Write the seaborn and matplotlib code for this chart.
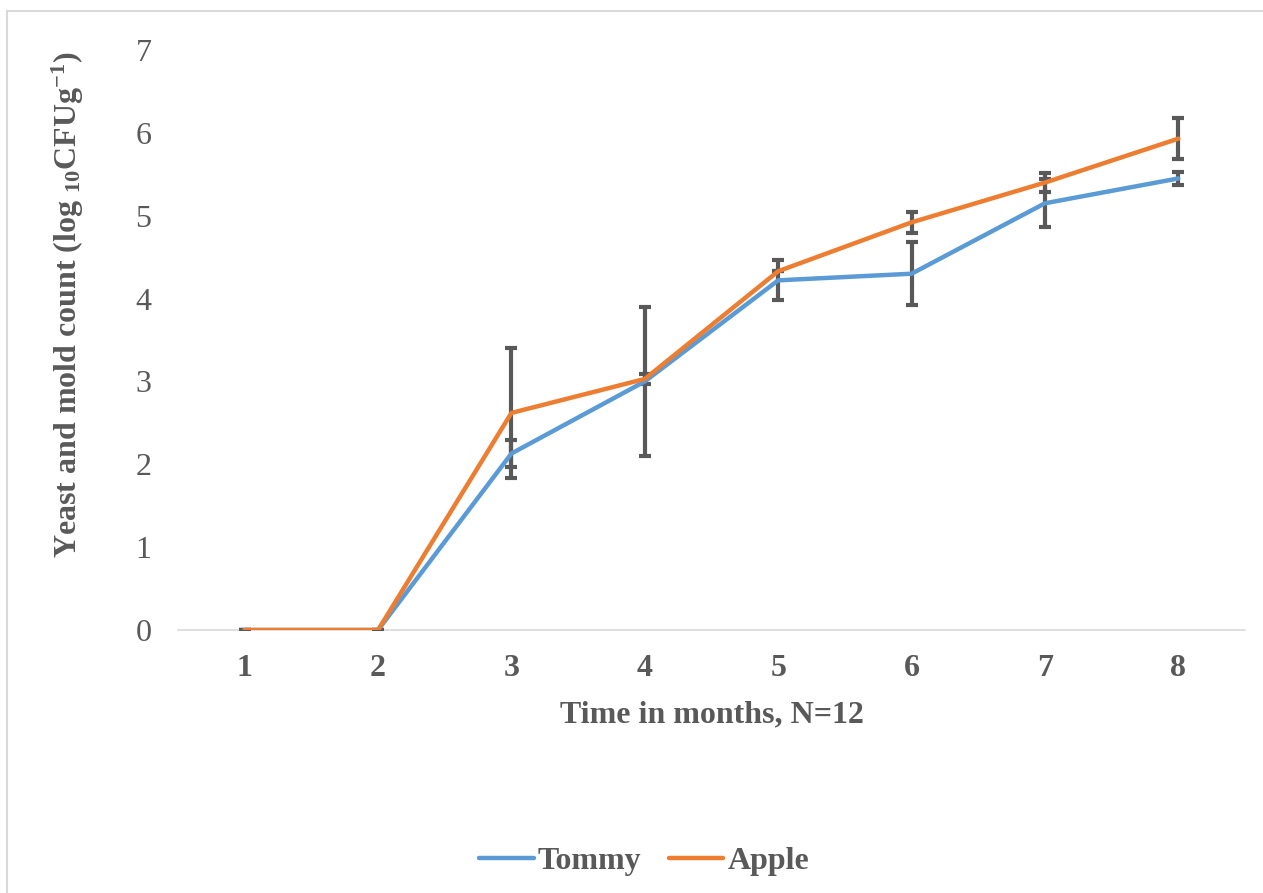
import matplotlib
matplotlib.use("Agg")
import matplotlib.pyplot as plt
import seaborn as sns
import pandas as pd
from matplotlib.lines import Line2D

months = [1, 2, 3, 4, 5, 6, 7, 8]
tommy = [0, 0, 2.13, 3.00, 4.22, 4.30, 5.15, 5.45]
apple = [0, 0, 2.62, 3.03, 4.33, 4.92, 5.40, 5.93]
tommy_err = [0, 0, 0.16, 0.90, 0.24, 0.38, 0.29, 0.08]
apple_err = [0, 0, 0.78, 0.06, 0.0, 0.13, 0.11, 0.25]
series_names = ["Tommy", "Apple"]
colors = {"Tommy": "#5B9BD5", "Apple": "#ED7D31"}

sns.set_style("white")
plt.rcParams["font.family"] = ["Liberation Serif", "DejaVu Serif"]
plt.rcParams["mathtext.fontset"] = "custom"
plt.rcParams["mathtext.rm"] = "Liberation Serif:bold"
plt.rcParams["mathtext.it"] = "Liberation Serif:bold"
plt.rcParams["mathtext.bf"] = "Liberation Serif:bold"

df = pd.DataFrame({
    "month": months * 2,
    "value": tommy + apple,
    "series": ["Tommy"] * len(months) + ["Apple"] * len(months),
})

fig = plt.figure(figsize=(12.63, 8.93), dpi=100)
ax = fig.add_axes([178 / 1263, 1 - 630 / 893, (1245 - 178) / 1263, 580 / 893])

grey = "#595959"
fs = 23

# error bars (behind lines)
ax.errorbar(months, tommy, yerr=tommy_err, fmt="none", ecolor=grey,
            elinewidth=3.0, capsize=4.5, capthick=3.0, zorder=2)
ax.errorbar(months, apple, yerr=apple_err, fmt="none", ecolor=grey,
            elinewidth=3.0, capsize=4.5, capthick=3.0, zorder=2)

sns.lineplot(data=df, x="month", y="value", hue="series", palette=colors,
             hue_order=series_names, linewidth=3.2, ax=ax, legend=False,
             zorder=3)
for ln in ax.lines:
    ln.set_solid_capstyle("round")

ax.set_xlim(0.5, 8.5)
ax.set_ylim(0, 7)
ax.set_xticks(months)
ax.set_xticklabels([str(m) for m in months], fontsize=fs, fontweight="bold", color=grey)
ax.set_yticks(range(0, 8))
ax.set_yticklabels([str(v) for v in range(0, 8)], fontsize=fs, color=grey)
ax.tick_params(axis="x", length=0, pad=17)
ax.tick_params(axis="y", length=0, pad=19)

for s in ["top", "right", "left"]:
    ax.spines[s].set_visible(False)
ax.spines["bottom"].set_color("#D9D9D9")
ax.spines["bottom"].set_linewidth(1.2)
ax.spines["bottom"].set_zorder(1)

ax.set_xlabel("Time in months, N=12", fontsize=fs, fontweight="bold", color=grey)
ax.xaxis.set_label_coords(0.5, -(700 - 630) / 580)
ax.set_ylabel("Yeast and mold count (log $_{10}$CFUg$^{-1}$)", fontsize=fs,
              fontweight="bold", color=grey)
ax.yaxis.set_label_coords(-(178 - 86) / 1067, (630 - 305) / 580)

handles = [Line2D([0], [0], color=colors[n], linewidth=3.2, solid_capstyle="round")
           for n in series_names]
leg = fig.legend(handles, series_names, loc="center", bbox_to_anchor=(644 / 1263, 1 - 861 / 893),
                 ncol=2, frameon=False, handlelength=1.72, handletextpad=0.13,
                 columnspacing=0.85, prop={"family": "Liberation Serif", "weight": "bold", "size": fs})
for t in leg.get_texts():
    t.set_color(grey)

# chart frame (top and left edges visible)
fig.add_artist(Line2D([7 / 1263, 1.0], [1 - 10.5 / 893] * 2, color="#D9D9D9", linewidth=1.5,
                      transform=fig.transFigure))
fig.add_artist(Line2D([7 / 1263] * 2, [0.0, 1 - 10.5 / 893], color="#D9D9D9", linewidth=1.5,
                      transform=fig.transFigure))

fig.savefig("out.png", dpi=100)
